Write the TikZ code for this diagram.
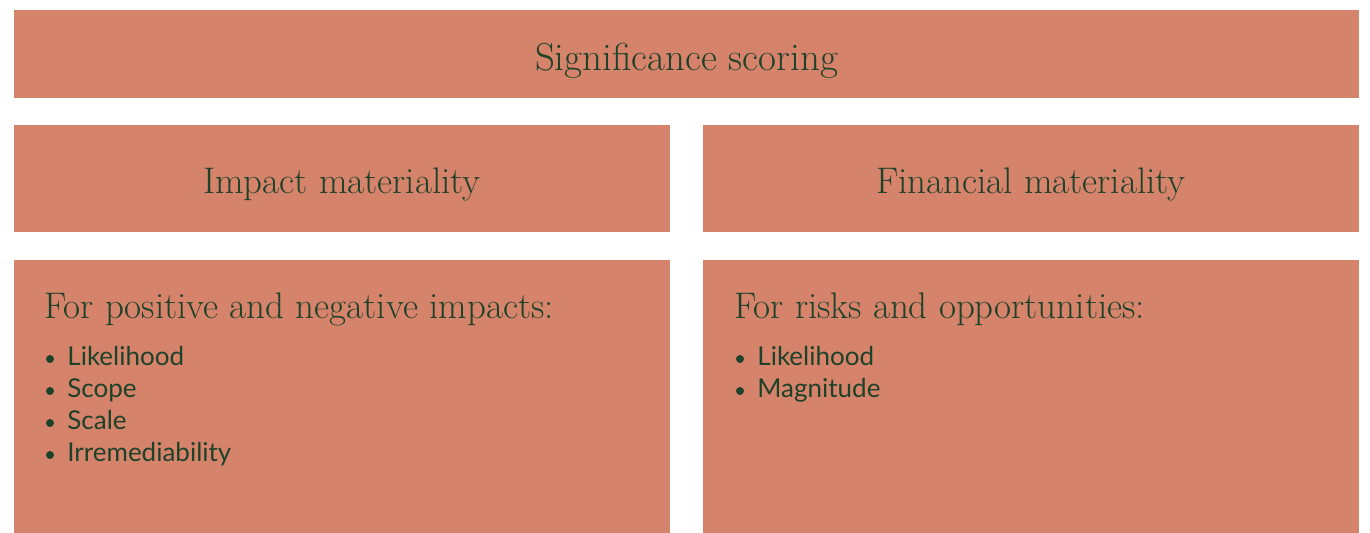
\documentclass[tikz,border=0pt]{standalone}
\usepackage{fontspec}
\setmainfont{Latin Modern Roman}
\newfontfamily\bulletfont{Lato}
\definecolor{boxfill}{HTML}{D6836B}
\definecolor{ink}{HTML}{1E4129}
\begin{document}
\begin{tikzpicture}[x=0.5pt,y=-0.5pt,
  panel/.style={fill=boxfill,draw=none,inner sep=0pt,outer sep=0pt,anchor=north west},
  headtext/.style={text=ink,font=\fontsize{18.5}{22}\selectfont,inner sep=0pt,anchor=base},
  toptext/.style={text=ink,font=\fontsize{19.5}{23}\selectfont,inner sep=0pt,anchor=base},
  subhead/.style={text=ink,font=\fontsize{18.5}{22}\selectfont,inner sep=0pt,anchor=base west},
  itemtext/.style={text=ink,font=\bulletfont\fontsize{13}{15}\selectfont,inner sep=0pt,anchor=base west},
  dot/.style={circle,fill=ink,inner sep=0pt,minimum size=4pt}]
\useasboundingbox (0,0) rectangle (1370,533);
\node[panel,minimum width=672.5pt,minimum height=44pt] (top) at (14,10) {};
\node[panel,minimum width=328pt,minimum height=53.5pt] (impact) at (14,125) {};
\node[panel,minimum width=328pt,minimum height=53.5pt] (financial) at (703,125) {};
\node[panel,minimum width=328pt,minimum height=136.5pt] (left) at (14,260) {};
\node[panel,minimum width=328pt,minimum height=136.5pt] (right) at (703,260) {};
\node[toptext] (ttop) at (686.5,71) {Significance scoring};
\node[headtext] (timpact) at (342,194) {Impact materiality};
\node[headtext] (tfin) at (1031,194) {Financial materiality};
\node[subhead] (lhead) at (44,319) {For positive and negative impacts:};
\node[subhead] (rhead) at (734,319) {For risks and opportunities:};
\foreach \t/\y/\n in {Likelihood/366/a,Scope/398/b,Scale/430/c,Irremediability/462/d}{
  \node[dot] (ld\n) at (50,\y-7) {};
  \node[itemtext] (lt\n) at (67,\y) {\t};
}
\foreach \t/\y/\n in {Likelihood/366/a,Magnitude/398/b}{
  \node[dot] (rd\n) at (740,\y-7) {};
  \node[itemtext] (rt\n) at (757,\y) {\t};
}
\end{tikzpicture}
\end{document}
